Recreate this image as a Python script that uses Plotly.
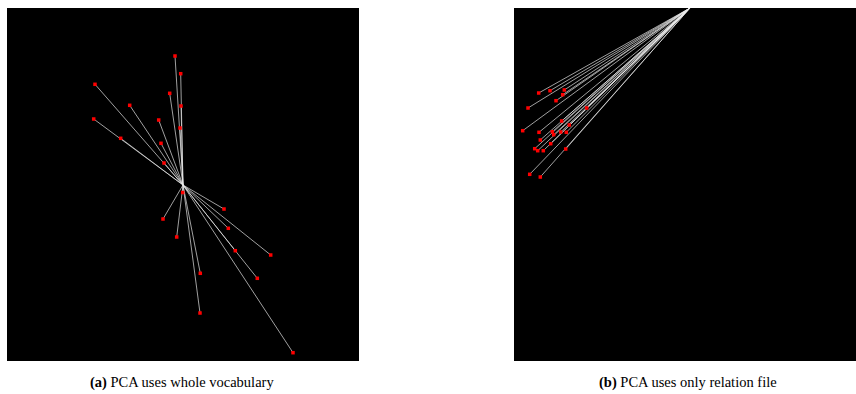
import plotly.graph_objects as go

# Panel (a): PCA on whole vocabulary — projected vectors, origin at centre
a_x = [-8, -2.3, -88, -13.3, -53.3, -2, -89.3, -24.3, -3, -62.3, -22, -19, -0.3,
       41, -20, 45.3, -6.3, 52.3, 87.7, 17.3, 74.3, 17, 110]
a_y = [129, 111.3, 100.7, 91.7, 79.7, 79, 66, 65, 57, 46.7, 41.7, 22, -7.5,
       -24, -34, -43.3, -52, -65.7, -70, -88.3, -93.3, -128, -167.7]

# Panel (b): PCA on relation file only — origin at top edge
b_x = [-151.3, -140, -125.7, -127.3, -134, -162, -103.3, -128.3, -120.7, -167.3,
       -151, -137.7, -136.3, -129.3, -123.7, -149.7, -139.3, -155.3, -152.3,
       -146.7, -124.3, -160.3, -149.7]
b_y = [-85, -82.7, -82, -86.7, -92.7, -100, -100, -113, -117, -122.7,
       -124.3, -123.7, -126.7, -124, -124.3, -132, -135.7, -140.7, -142.7,
       -142.7, -141, -166.3, -169]

captions = ["<b>(a)</b> PCA uses whole vocabulary", "<b>(b)</b> PCA uses only relation file"]


def segs(xs, ys):
    lx, ly = [], []
    for x, y in zip(xs, ys):
        lx += [0, x, None]
        ly += [0, y, None]
    return lx, ly


fig = go.Figure()
for xs, ys, ax in [(a_x, a_y, ""), (b_x, b_y, "2")]:
    lx, ly = segs(xs, ys)
    fig.add_trace(go.Scatter(x=lx, y=ly, mode="lines", xaxis="x" + ax, yaxis="y" + ax,
                             line=dict(color="rgba(235,235,235,0.85)", width=0.8),
                             hoverinfo="skip", showlegend=False))
    fig.add_trace(go.Scatter(x=xs, y=ys, mode="markers", xaxis="x" + ax, yaxis="y" + ax,
                             marker=dict(color="#ff0000", size=3.5, symbol="square"),
                             showlegend=False))

ax_common = dict(showgrid=False, zeroline=False, showticklabels=False, ticks="",
                 showline=False, fixedrange=True)
fig.update_layout(
    width=856, height=394,
    margin=dict(l=0, r=0, t=0, b=0),
    paper_bgcolor="white", plot_bgcolor="black",
    xaxis=dict(domain=[7 / 856, 359 / 856], range=[-176, 176], **ax_common),
    yaxis=dict(domain=[33 / 394, 386 / 394], range=[-176, 177], **ax_common),
    xaxis2=dict(domain=[514 / 856, 1.0], range=[-176, 166], anchor="y2", **ax_common),
    yaxis2=dict(domain=[33 / 394, 386 / 394], range=[-353, 0], anchor="x2", **ax_common),
    font=dict(family="'Liberation Serif', 'Times New Roman', serif", color="black"),
    annotations=[
        dict(text=captions[0], x=182 / 856, y=1 - 382 / 394, xref="paper", yref="paper",
             showarrow=False, font=dict(size=14.5), xanchor="center", yanchor="middle"),
        dict(text=captions[1], x=688 / 856, y=1 - 382 / 394, xref="paper", yref="paper",
             showarrow=False, font=dict(size=14.5), xanchor="center", yanchor="middle"),
    ],
)

fig.write_html("out.html", config={"displayModeBar": False},
               post_script="document.body.style.margin='0';document.body.style.overflow='hidden';")
